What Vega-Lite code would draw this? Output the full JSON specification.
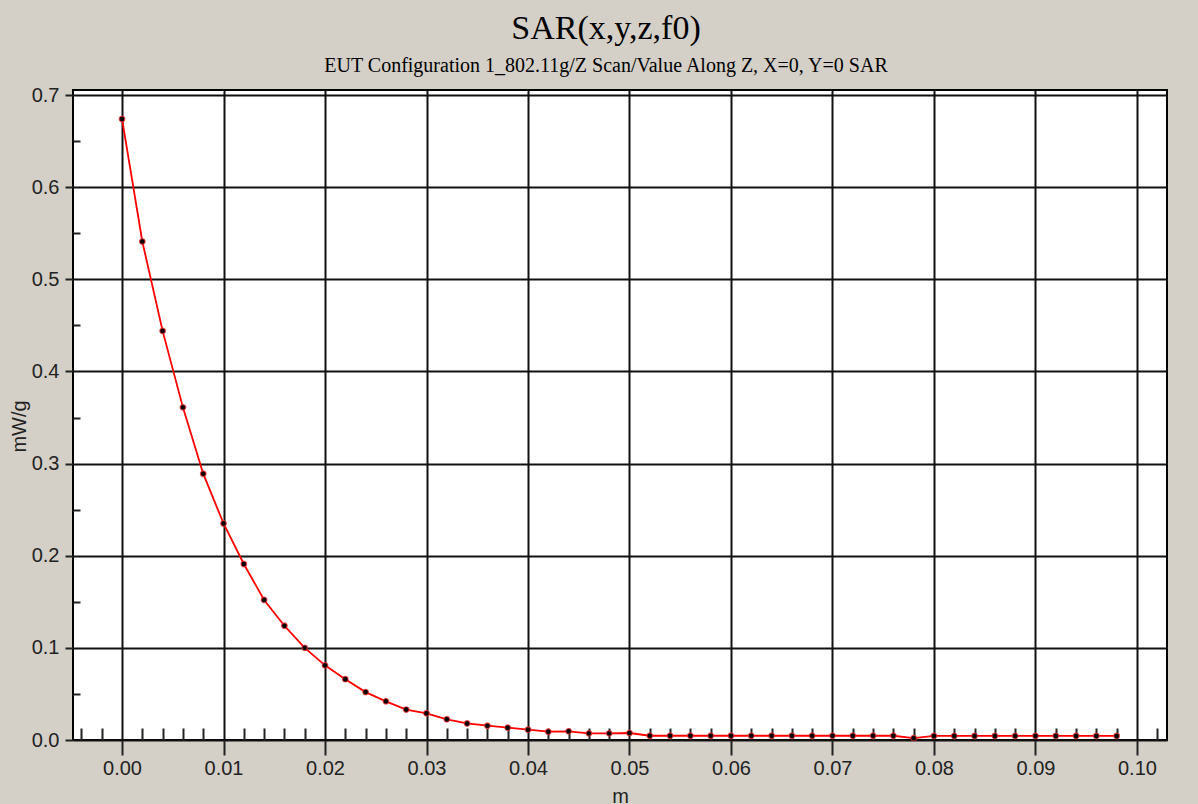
{
  "$schema": "https://vega.github.io/schema/vega-lite/v6.json",
  "width": 1094,
  "height": 650,
  "autosize": {"type": "none"},
  "padding": {"left": 73, "top": 90, "right": 31, "bottom": 64},
  "background": "#d4d0c8",
  "title": {
    "text": "SAR(x,y,z,f0)",
    "subtitle": "EUT Configuration 1_802.11g/Z Scan/Value Along Z, X=0, Y=0 SAR",
    "font": "Liberation Serif",
    "fontSize": 34,
    "fontWeight": "normal",
    "color": "#000000",
    "subtitleFont": "Liberation Serif",
    "subtitleFontSize": 20,
    "subtitleColor": "#000000",
    "subtitlePadding": 10,
    "anchor": "middle",
    "frame": "group",
    "dx": -14,
    "offset": 9
  },
  "config": {
    "view": {"fill": "#ffffff", "stroke": "#000000", "strokeWidth": 2},
    "axis": {
      "labelFont": "Liberation Sans",
      "labelFontSize": 20,
      "labelColor": "#222222",
      "titleFont": "Liberation Sans",
      "titleFontSize": 20,
      "titleFontWeight": "normal",
      "titleColor": "#222222",
      "tickColor": "#222222",
      "tickWidth": 2,
      "gridColor": "#111111",
      "gridWidth": 2,
      "gridOpacity": 1,
      "domain": false
    }
  },
  "data": {
    "values": [
      {"z": 0.000, "sar": 0.674},
      {"z": 0.002, "sar": 0.541},
      {"z": 0.004, "sar": 0.444},
      {"z": 0.006, "sar": 0.361},
      {"z": 0.008, "sar": 0.289},
      {"z": 0.010, "sar": 0.235},
      {"z": 0.012, "sar": 0.191},
      {"z": 0.014, "sar": 0.152},
      {"z": 0.016, "sar": 0.124},
      {"z": 0.018, "sar": 0.100},
      {"z": 0.020, "sar": 0.081},
      {"z": 0.022, "sar": 0.066},
      {"z": 0.024, "sar": 0.052},
      {"z": 0.026, "sar": 0.042},
      {"z": 0.028, "sar": 0.033},
      {"z": 0.030, "sar": 0.029},
      {"z": 0.032, "sar": 0.0225},
      {"z": 0.034, "sar": 0.018},
      {"z": 0.036, "sar": 0.0155},
      {"z": 0.038, "sar": 0.0134},
      {"z": 0.040, "sar": 0.0112},
      {"z": 0.042, "sar": 0.009},
      {"z": 0.044, "sar": 0.0094},
      {"z": 0.046, "sar": 0.0072},
      {"z": 0.048, "sar": 0.0072},
      {"z": 0.050, "sar": 0.0076},
      {"z": 0.052, "sar": 0.0046},
      {"z": 0.054, "sar": 0.0046},
      {"z": 0.056, "sar": 0.0046},
      {"z": 0.058, "sar": 0.0046},
      {"z": 0.060, "sar": 0.0046},
      {"z": 0.062, "sar": 0.0046},
      {"z": 0.064, "sar": 0.0046},
      {"z": 0.066, "sar": 0.0046},
      {"z": 0.068, "sar": 0.0046},
      {"z": 0.070, "sar": 0.0046},
      {"z": 0.072, "sar": 0.0046},
      {"z": 0.074, "sar": 0.0046},
      {"z": 0.076, "sar": 0.0046},
      {"z": 0.078, "sar": 0.002},
      {"z": 0.080, "sar": 0.0044},
      {"z": 0.082, "sar": 0.0044},
      {"z": 0.084, "sar": 0.0044},
      {"z": 0.086, "sar": 0.0044},
      {"z": 0.088, "sar": 0.0044},
      {"z": 0.090, "sar": 0.0044},
      {"z": 0.092, "sar": 0.0044},
      {"z": 0.094, "sar": 0.0044},
      {"z": 0.096, "sar": 0.0044},
      {"z": 0.098, "sar": 0.0044}
    ]
  },
  "resolve": {"axis": {"x": "independent", "y": "independent"}},
  "layer": [
    {
      "mark": {"type": "line", "color": "#ff0000", "strokeWidth": 1.8},
      "encoding": {
        "x": {
          "field": "z", "type": "quantitative",
          "scale": {"domain": [-0.00483, 0.10296], "nice": false, "zero": false},
          "axis": {
            "orient": "bottom",
            "title": "m",
            "values": [0, 0.01, 0.02, 0.03, 0.04, 0.05, 0.06, 0.07, 0.08, 0.09, 0.1],
            "format": ".2f",
            "grid": true,
            "tickSize": 15,
            "labelPadding": 3,
            "titlePadding": 8
          }
        },
        "y": {
          "field": "sar", "type": "quantitative",
          "scale": {"domain": [0, 0.70543], "nice": false},
          "axis": {
            "orient": "left",
            "title": "mW/g",
            "values": [0, 0.1, 0.2, 0.3, 0.4, 0.5, 0.6, 0.7],
            "format": ".1f",
            "grid": true,
            "tickSize": 8,
            "labelPadding": 6,
            "titlePadding": 2,
            "titleY": 336
          }
        }
      }
    },
    {
      "mark": {"type": "point", "filled": true, "fill": "#000000", "stroke": "#ff3030", "strokeWidth": 1.2, "strokeOpacity": 0.7, "size": 32, "opacity": 1},
      "encoding": {
        "x": {
          "field": "z", "type": "quantitative",
          "axis": {
            "orient": "bottom",
            "title": null,
            "labels": false,
            "grid": false,
            "values": [-0.004, -0.002, 0.002, 0.004, 0.006, 0.008, 0.012, 0.014, 0.016, 0.018, 0.022, 0.024, 0.026, 0.028, 0.032, 0.034, 0.036, 0.038, 0.042, 0.044, 0.046, 0.048, 0.052, 0.054, 0.056, 0.058, 0.062, 0.064, 0.066, 0.068, 0.072, 0.074, 0.076, 0.078, 0.082, 0.084, 0.086, 0.088, 0.092, 0.094, 0.096, 0.098, 0.102],
            "tickSize": -12
          }
        },
        "y": {
          "field": "sar", "type": "quantitative",
          "axis": {
            "orient": "left",
            "title": null,
            "labels": false,
            "grid": false,
            "values": [0.05, 0.15, 0.25, 0.35, 0.45, 0.55, 0.65],
            "tickSize": -7
          }
        }
      }
    }
  ]
}
